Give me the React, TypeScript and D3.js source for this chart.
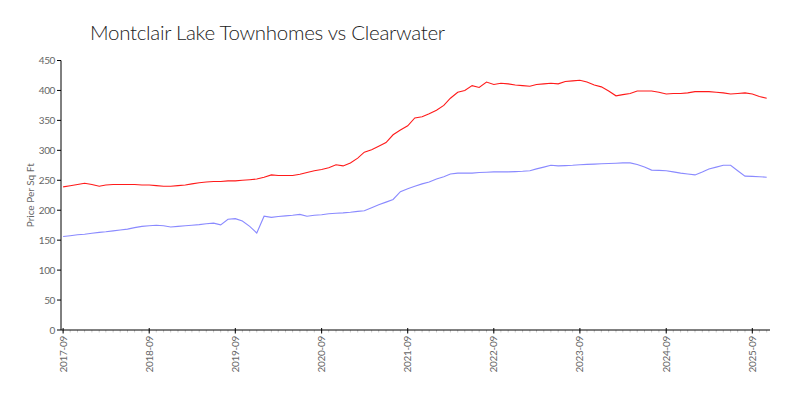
import React, { useEffect, useRef } from "react";
import * as d3 from "d3";

const TITLE = "Montclair Lake Townhomes vs Clearwater";
const Y_LABEL = "Price Per Sq Ft";
const START_MONTH = "2017-09";
const END_MONTH = "2025-11";
const Y_TICKS = [0, 50, 100, 150, 200, 250, 300, 350, 400, 450];
const X_TICK_LABELS = ["2017-09", "2018-09", "2019-09", "2020-09", "2021-09", "2022-09", "2023-09", "2024-09", "2025-09"];

const montclair = [
  239, 241, 243, 245, 243, 240, 242, 243, 243, 243, 243, 242, 242, 241, 240, 240, 241, 242, 244, 246,
  247, 248, 248, 249, 249, 250, 251, 252, 255, 259, 258, 258, 258, 260, 263, 266, 268, 271, 276, 274,
  279, 287, 297, 301, 307, 313, 326, 334, 341, 354, 356, 361, 367, 375, 387, 397, 400, 408, 405, 414,
  410, 412, 411, 409, 408, 407, 410, 411, 412, 411, 415, 416, 417, 414, 409, 406, 399, 391, 393, 395,
  399, 399, 399, 397, 394, 395, 395, 396, 398, 398, 398, 397, 396, 394, 395, 396, 394, 390, 387,
];

const clearwater = [
  156, 157.5, 159, 160, 161.5, 163, 164, 165.5, 167, 168.5, 171, 173, 174, 175, 174, 172, 173, 174, 175, 176,
  177.5, 178.5, 175.5, 185, 186, 182, 173, 162, 190, 188, 189.5, 190.5, 191.5, 193, 190, 191.5, 192.5, 194, 195, 195.5,
  196.5, 198, 199, 204, 209, 213.5, 218, 231, 236, 240, 244, 247, 252, 256, 260.5, 262, 262, 262, 263, 263.5,
  264, 264, 264, 264.5, 265, 266, 269, 272, 275, 274, 274.5, 275, 276, 276.5, 277, 277.5, 278, 278.5, 279, 279,
  276.5, 272, 267, 266.5, 266, 264, 262, 260.5, 259, 264, 269, 272, 275, 275, 266, 257, 256.5, 256, 255,
];

const parseMonth = d3.timeParse("%Y-%m");

export default function App() {
  const ref = useRef<SVGSVGElement>(null);

  useEffect(() => {
    const svg = d3.select(ref.current);
    svg.selectAll("*").remove();

    const start = parseMonth(START_MONTH)!;
    const end = parseMonth(END_MONTH)!;
    const months = d3.timeMonth.range(start, d3.timeMonth.offset(end, 1));

    const x = d3
      .scaleTime()
      .domain([d3.timeDay.offset(start, -9), d3.timeDay.offset(end, 14)])
      .range([61, 770]);
    const y = d3.scaleLinear().domain([0, 450]).range([330, 60.5]);

    const font = "Lato, 'Open Sans', sans-serif";

    svg
      .append("text")
      .attr("x", 90)
      .attr("y", 40)
      .attr("font-family", font)
      .attr("font-weight", 300)
      .attr("font-size", 20.5)
      .attr("letter-spacing", -0.3)
      .attr("fill", "#222")
      .text(TITLE);

    // Y axis
    const yAxis = svg.append("g").attr("transform", "translate(61,0)");
    yAxis
      .append("line")
      .attr("x1", 0)
      .attr("x2", 0)
      .attr("y1", y(450))
      .attr("y2", y(0))
      .attr("stroke", "#000");
    Y_TICKS.forEach((t) => {
      yAxis
        .append("line")
        .attr("x1", -4)
        .attr("x2", 0)
        .attr("y1", y(t))
        .attr("y2", y(t))
        .attr("stroke", "#000");
      yAxis
        .append("text")
        .attr("x", -6)
        .attr("y", y(t))
        .attr("dy", "0.35em")
        .attr("text-anchor", "end")
        .attr("font-family", font)
        .attr("font-size", 10)
        .attr("letter-spacing", -0.4)
        .attr("fill", "#666")
        .text(String(t));
    });

    svg
      .append("text")
      .attr("transform", `translate(34,${(y(0) + y(450)) / 2}) rotate(-90)`)
      .attr("text-anchor", "middle")
      .attr("font-family", font)
      .attr("font-size", 10)
      .attr("fill", "#666")
      .text(Y_LABEL);

    // X axis
    const xAxis = svg.append("g").attr("transform", `translate(0,${y(0)})`);
    months.forEach((m) => {
      xAxis
        .append("line")
        .attr("x1", x(m))
        .attr("x2", x(m))
        .attr("y1", 0)
        .attr("y2", 2.5)
        .attr("stroke", "#ccc");
    });
    xAxis
      .append("line")
      .attr("x1", x.range()[0])
      .attr("x2", x.range()[1])
      .attr("y1", 0)
      .attr("y2", 0)
      .attr("stroke", "#000");
    X_TICK_LABELS.forEach((lab) => {
      const d = parseMonth(lab)!;
      xAxis
        .append("line")
        .attr("x1", x(d))
        .attr("x2", x(d))
        .attr("y1", -2)
        .attr("y2", 3.5)
        .attr("stroke", "#000");
      xAxis
        .append("text")
        .attr("transform", `translate(${x(d)},6) rotate(-90)`)
        .attr("dy", "0.35em")
        .attr("text-anchor", "end")
        .attr("font-family", font)
        .attr("font-size", 10)
        .attr("letter-spacing", -0.3)
        .attr("fill", "#666")
        .text(lab);
    });

    const line = d3
      .line<number>()
      .x((_, i) => x(months[i]))
      .y((v) => y(v));

    svg
      .append("path")
      .datum(clearwater)
      .attr("d", line)
      .attr("fill", "none")
      .attr("stroke", "#8a8aff")
      .attr("stroke-width", 1.1);

    svg
      .append("path")
      .datum(montclair)
      .attr("d", line)
      .attr("fill", "none")
      .attr("stroke", "#ff1a1a")
      .attr("stroke-width", 1.1);
  }, []);

  return (
    <svg
      ref={ref}
      width={800}
      height={400}
      style={{ position: "fixed", left: 0, top: 0, background: "#fff" }}
    />
  );
}
